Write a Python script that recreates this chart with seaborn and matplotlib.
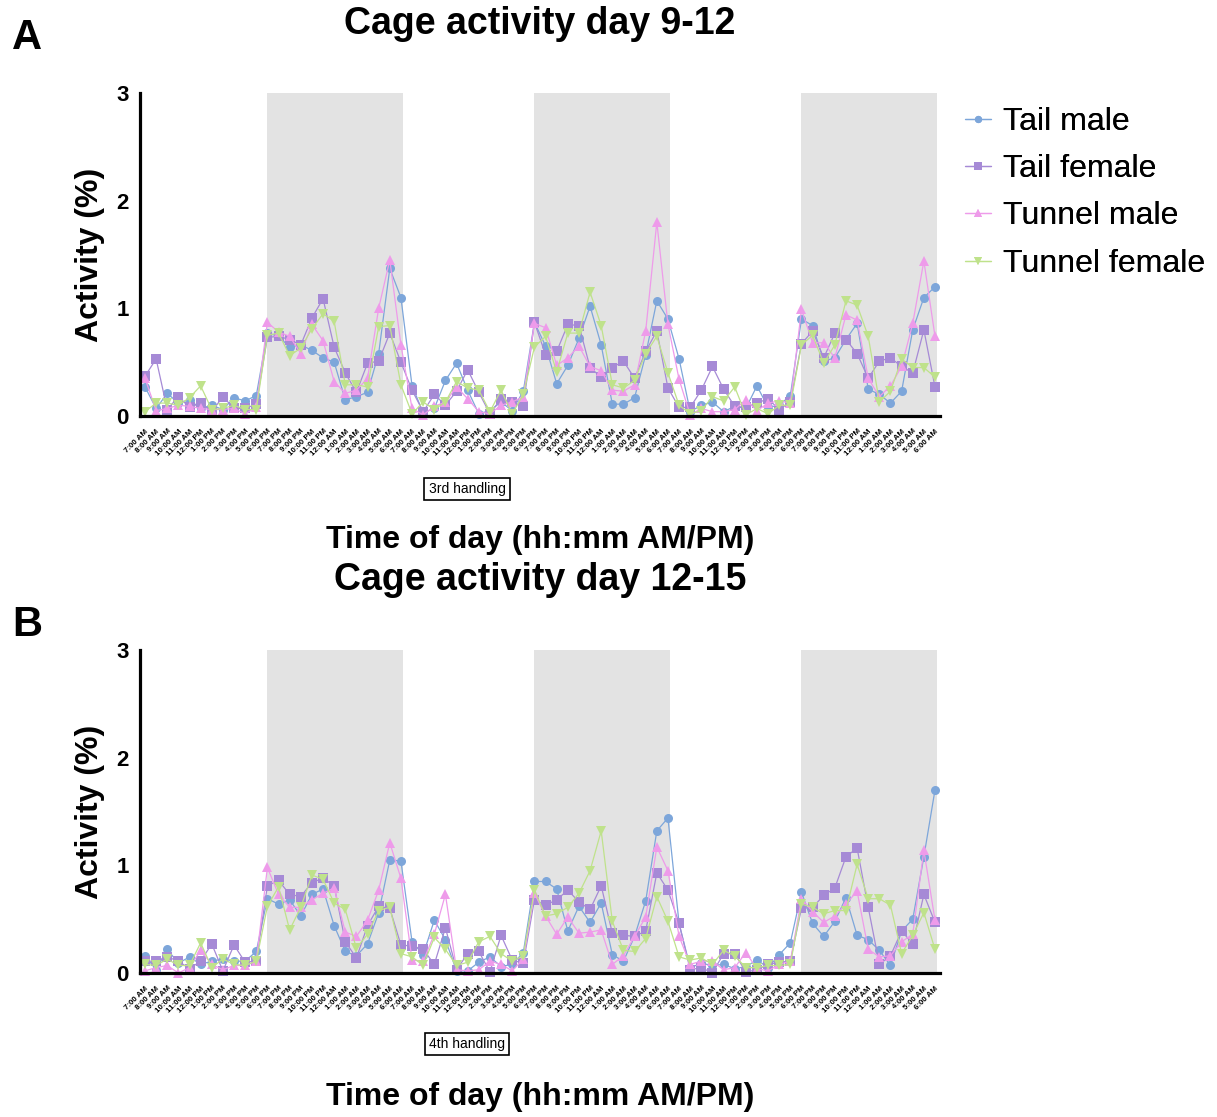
import matplotlib
matplotlib.use("Agg")
import matplotlib.pyplot as plt
import numpy as np
import pandas as pd
import seaborn as sns

# ---------------------------------------------------------------- data
# Hourly cage activity (%) starting 7:00 AM, 72 consecutive hours.
a_tail_male = [0.27, 0.07, 0.21, 0.12, 0.15, 0.07, 0.10, 0.06, 0.17, 0.14, 0.19, 0.77,
               0.74, 0.64, 0.66, 0.61, 0.54, 0.50, 0.15, 0.18, 0.22, 0.58, 1.37, 1.10,
               0.28, 0.03, 0.07, 0.33, 0.49, 0.24, 0.02, 0.05, 0.13, 0.05, 0.23, 0.87,
               0.65, 0.30, 0.47, 0.72, 1.02, 0.66, 0.11, 0.11, 0.17, 0.57, 1.07, 0.90,
               0.53, 0.04, 0.10, 0.13, 0.04, 0.09, 0.07, 0.28, 0.08, 0.10, 0.19, 0.90,
               0.84, 0.51, 0.54, 0.71, 0.86, 0.25, 0.20, 0.12, 0.23, 0.80, 1.10, 1.20]
a_tail_female = [0.37, 0.53, 0.06, 0.18, 0.08, 0.12, 0.04, 0.18, 0.07, 0.07, 0.11, 0.73,
                 0.74, 0.71, 0.66, 0.91, 1.09, 0.64, 0.40, 0.22, 0.49, 0.51, 0.77, 0.50,
                 0.24, 0.04, 0.20, 0.10, 0.23, 0.43, 0.22, 0.02, 0.16, 0.13, 0.09, 0.87,
                 0.57, 0.60, 0.85, 0.84, 0.45, 0.36, 0.45, 0.51, 0.35, 0.60, 0.79, 0.26,
                 0.08, 0.08, 0.24, 0.46, 0.25, 0.09, 0.08, 0.12, 0.16, 0.06, 0.13, 0.67,
                 0.79, 0.54, 0.77, 0.71, 0.58, 0.35, 0.51, 0.54, 0.46, 0.40, 0.80, 0.27]
a_tunnel_male = [0.35, 0.05, 0.07, 0.10, 0.09, 0.07, 0.06, 0.06, 0.07, 0.02, 0.08, 0.87,
                 0.78, 0.74, 0.58, 0.85, 0.70, 0.32, 0.21, 0.24, 0.35, 1.00, 1.45, 0.66,
                 0.07, 0.01, 0.09, 0.13, 0.27, 0.16, 0.04, 0.02, 0.10, 0.13, 0.18, 0.86,
                 0.82, 0.47, 0.54, 0.65, 0.46, 0.42, 0.24, 0.23, 0.29, 0.79, 1.80, 0.85,
                 0.34, 0.01, 0.07, 0.04, 0.04, 0.06, 0.15, 0.05, 0.12, 0.14, 0.12, 0.99,
                 0.68, 0.68, 0.54, 0.94, 0.89, 0.35, 0.18, 0.28, 0.46, 0.86, 1.44, 0.74]
a_tunnel_female = [0.04, 0.12, 0.12, 0.10, 0.17, 0.28, 0.06, 0.07, 0.10, 0.06, 0.06, 0.75,
                   0.77, 0.56, 0.63, 0.81, 0.95, 0.88, 0.29, 0.29, 0.27, 0.83, 0.84, 0.29,
                   0.02, 0.13, 0.06, 0.13, 0.32, 0.26, 0.24, 0.04, 0.24, 0.02, 0.20, 0.64,
                   0.74, 0.41, 0.77, 0.77, 1.15, 0.84, 0.29, 0.26, 0.33, 0.58, 0.74, 0.40,
                   0.10, 0.02, 0.05, 0.18, 0.14, 0.27, 0.01, 0.07, 0.02, 0.10, 0.10, 0.66,
                   0.75, 0.49, 0.66, 1.07, 1.03, 0.74, 0.13, 0.23, 0.53, 0.45, 0.45, 0.36]

b_tail_male = [0.16, 0.03, 0.22, 0.09, 0.15, 0.08, 0.11, 0.13, 0.11, 0.11, 0.20, 0.69,
               0.64, 0.68, 0.53, 0.73, 0.78, 0.44, 0.20, 0.16, 0.27, 0.56, 1.05, 1.04,
               0.29, 0.17, 0.49, 0.31, 0.02, 0.02, 0.10, 0.15, 0.06, 0.08, 0.19, 0.85,
               0.85, 0.78, 0.39, 0.62, 0.47, 0.65, 0.17, 0.11, 0.34, 0.67, 1.32, 1.44,
               0.46, 0.05, 0.09, 0.07, 0.08, 0.04, 0.06, 0.12, 0.05, 0.17, 0.28, 0.75,
               0.46, 0.34, 0.48, 0.70, 0.35, 0.31, 0.21, 0.07, 0.39, 0.50, 1.08, 1.70]
b_tail_female = [0.11, 0.11, 0.15, 0.11, 0.04, 0.11, 0.27, 0.02, 0.26, 0.10, 0.11, 0.81,
                 0.86, 0.73, 0.71, 0.84, 0.88, 0.81, 0.29, 0.14, 0.44, 0.62, 0.60, 0.26,
                 0.25, 0.22, 0.08, 0.42, 0.03, 0.18, 0.20, 0.01, 0.35, 0.12, 0.09, 0.68,
                 0.63, 0.68, 0.77, 0.66, 0.59, 0.81, 0.37, 0.35, 0.34, 0.39, 0.93, 0.77,
                 0.46, 0.03, 0.05, 0.00, 0.18, 0.18, 0.01, 0.03, 0.08, 0.10, 0.11, 0.60,
                 0.61, 0.72, 0.79, 1.08, 1.16, 0.61, 0.08, 0.16, 0.39, 0.27, 0.73, 0.47]
b_tunnel_male = [0.02, 0.05, 0.07, 0.00, 0.05, 0.21, 0.08, 0.03, 0.07, 0.07, 0.11, 0.98,
                 0.73, 0.61, 0.61, 0.68, 0.74, 0.79, 0.38, 0.34, 0.49, 0.77, 1.21, 0.88,
                 0.12, 0.11, 0.36, 0.73, 0.03, 0.02, 0.03, 0.11, 0.08, 0.02, 0.13, 0.74,
                 0.53, 0.36, 0.52, 0.37, 0.38, 0.40, 0.08, 0.16, 0.34, 0.52, 1.17, 0.95,
                 0.34, 0.08, 0.11, 0.11, 0.03, 0.05, 0.19, 0.04, 0.02, 0.08, 0.11, 0.69,
                 0.57, 0.47, 0.53, 0.64, 0.76, 0.22, 0.15, 0.16, 0.29, 0.36, 1.14, 0.49]
b_tunnel_female = [0.08, 0.07, 0.13, 0.07, 0.07, 0.28, 0.05, 0.13, 0.08, 0.07, 0.11, 0.62,
                   0.80, 0.40, 0.61, 0.91, 0.87, 0.65, 0.59, 0.23, 0.36, 0.58, 0.61, 0.18,
                   0.15, 0.07, 0.33, 0.22, 0.07, 0.10, 0.29, 0.34, 0.18, 0.11, 0.16, 0.77,
                   0.53, 0.55, 0.61, 0.74, 0.95, 1.32, 0.48, 0.21, 0.20, 0.32, 0.71, 0.48,
                   0.15, 0.12, 0.14, 0.08, 0.21, 0.16, 0.05, 0.05, 0.07, 0.07, 0.08, 0.64,
                   0.61, 0.55, 0.58, 0.58, 1.01, 0.69, 0.69, 0.63, 0.18, 0.35, 0.56, 0.22]

groups = ["Tail male", "Tail female", "Tunnel male", "Tunnel female"]
panel_titles = ["Cage activity day 9-12", "Cage activity day 12-15"]
panel_letters = ["A", "B"]
handling_notes = ["3rd handling", "4th handling"]
y_ticks = [0, 1, 2, 3]


def clock_label(h):
    h24 = h % 24
    suffix = "AM" if h24 < 12 else "PM"
    h12 = h24 % 12 or 12
    return f"{h12}:00 {suffix}"


start_hour = 7
n_hours = len(a_tail_male)
hour_labels = [clock_label(start_hour + k) for k in range(n_hours)]
# dark phase shading (index of start, width in hours)
dark_starts = [11, 35, 59]
dark_width = 12.2

palette = {"Tail male": "#7DA6DA", "Tail female": "#A68AD6",
           "Tunnel male": "#EE9BEA", "Tunnel female": "#BFE28B"}
markers = {"Tail male": "o", "Tail female": "s",
           "Tunnel male": "^", "Tunnel female": "v"}

panels = [
    dict(zip(groups, [a_tail_male, a_tail_female, a_tunnel_male, a_tunnel_female])),
    dict(zip(groups, [b_tail_male, b_tail_female, b_tunnel_male, b_tunnel_female])),
]

# ---------------------------------------------------------------- figure
sns.set_style("white")
plt.rcParams["font.family"] = ["Liberation Sans", "DejaVu Sans"]
for key in ("text.color", "axes.labelcolor", "xtick.color", "ytick.color",
            "axes.edgecolor"):
    plt.rcParams[key] = "black"

W, H = 1217, 1117
fig = plt.figure(figsize=(W / 100, H / 100), dpi=100)

axes_px = [(140, 93, 940, 416), (140, 650, 940, 973)]   # left, top, right, bottom
title_y = [24, 580]
letter_y = [38, 625]
xlabel_y = [540, 1097]
note_y = [489, 1044]

for p, series in enumerate(panels):
    l, t, r, b = axes_px[p]
    ax = fig.add_axes([l / W, 1 - b / H, (r - l) / W, (b - t) / H])

    df = pd.DataFrame({
        "hour": np.tile(np.arange(n_hours), len(groups)),
        "activity": np.concatenate([series[g] for g in groups]),
        "group": np.repeat(groups, n_hours),
    })

    for s in dark_starts:
        ax.axvspan(s, s + dark_width, color="#E3E3E3", lw=0, zorder=0)

    sns.lineplot(data=df, x="hour", y="activity", hue="group", style="group",
                 hue_order=groups, style_order=groups, palette=palette,
                 markers=markers, dashes=False, markersize=6.5,
                 markeredgewidth=0, linewidth=0.9, ax=ax, clip_on=False,
                 legend=True)

    ax.set_xlim(-0.45, 71.45)
    ax.set_ylim(0, 3)
    ax.set_xticks(np.arange(n_hours))
    ax.set_xticklabels(hour_labels, rotation=45, ha="right",
                       rotation_mode="anchor", fontsize=5.7, fontweight="bold")
    ax.set_yticks(y_ticks)
    ax.set_yticklabels([str(v) for v in y_ticks], fontsize=16, fontweight="bold")

    for side in ("top", "right"):
        ax.spines[side].set_visible(False)
    for side in ("left", "bottom"):
        ax.spines[side].set_linewidth(2.3)
        ax.spines[side].set_color("black")
    ax.tick_params(axis="y", direction="out", length=6, width=2.2, pad=2, colors="black")
    ax.tick_params(axis="x", direction="out", length=7, width=2.0, pad=1.5, colors="black")
    ax.grid(False)

    ax.set_xlabel("Time of day (hh:mm AM/PM)", fontsize=23, fontweight="bold")
    ax.xaxis.set_label_coords(0.5, (b - xlabel_y[p]) / (b - t))
    ax.xaxis.label.set_va("center")
    ax.set_ylabel("Activity (%)", fontsize=23, fontweight="bold")
    ax.yaxis.set_label_coords((90 - l) / (r - l), 0.5)
    ax.yaxis.label.set_va("center")

    handles, labels = ax.get_legend_handles_labels()
    ax.legend(handles, labels, loc="upper left",
              bbox_to_anchor=((965 - l) / (r - l), 1 + (t - 107) / (b - t)),
              frameon=False, fontsize=23, handlelength=0.8, handletextpad=0.4,
              labelspacing=0.54, markerscale=0.8, borderaxespad=0, borderpad=0)

    fig.text(540 / W, 1 - title_y[p] / H, panel_titles[p], ha="center", va="center",
             fontsize=27, fontweight="bold")
    fig.text(27 / W, 1 - letter_y[p] / H, panel_letters[p], ha="center", va="center",
             fontsize=30, fontweight="bold")
    fig.text(467 / W, 1 - note_y[p] / H, handling_notes[p], ha="center", va="center",
             fontsize=10,
             bbox=dict(boxstyle="square,pad=0.3", facecolor="white",
                       edgecolor="black", linewidth=1.2))

fig.savefig("out.png", dpi=100)
